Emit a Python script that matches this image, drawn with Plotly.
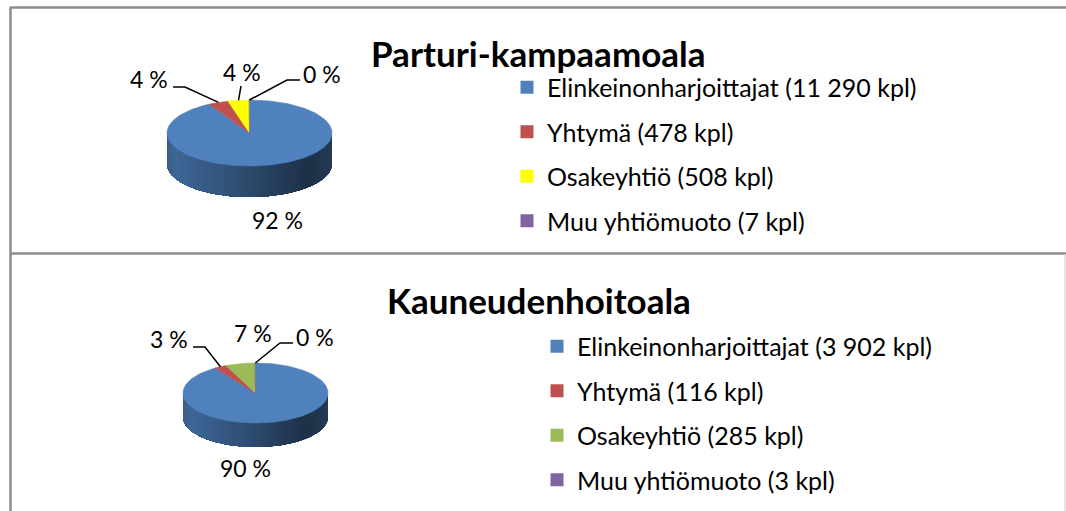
import numpy as np
import plotly.graph_objects as go

W, H = 1066, 511

# ---------------- data ----------------
categories = ["Elinkeinonharjoittajat", "Yhtymä", "Osakeyhtiö", "Muu yhtiömuoto"]
titles = ["Parturi-kampaamoala", "Kauneudenhoitoala"]
counts_parturi = [11290, 478, 508, 7]
counts_kauneus = [3902, 116, 285, 3]
pct_labels_parturi = ["92 %", "4 %", "4 %", "0 %"]
pct_labels_kauneus = ["90 %", "3 %", "7 %", "0 %"]
colors_parturi = ["#4f81bd", "#c0504d", "#ffff00", "#8064a2"]
colors_kauneus = ["#4f81bd", "#c0504d", "#9bbb59", "#8064a2"]

# ---------------- layout constants (pixel space) ----------------
FONT = "Lato"
pies = [
    dict(values=counts_parturi, pct=pct_labels_parturi, colors=colors_parturi,
         title=titles[0], cx=249.5, cy=133, rx=82.5, ry=33, depth=31,
         title_xy=(369, 53),
         label_xy=[(277, 220), (149, 79), (241.5, 72), (322, 74)],
         leader=[None, [(173, 87), (185, 87)], [(241, 86)], [(300, 80), (287, 80)]],
         legend="legend", legend_xy=(507, 64.5)),
    dict(values=counts_kauneus, pct=pct_labels_kauneus, colors=colors_kauneus,
         title=titles[1], cx=255.5, cy=393, rx=72.5, ry=30, depth=24,
         title_xy=(385, 300),
         label_xy=[(245, 468), (168.5, 339), (252.5, 333), (315, 337)],
         leader=[None, [(193, 347), (205, 347)], None, [(293, 343), (280, 343)]],
         legend="legend2", legend_xy=(537, 323.5)),
]


def hex_to_rgb(h):
    h = h.lstrip("#")
    return tuple(int(h[i:i + 2], 16) for i in (0, 2, 4))


def shade(hexcol, f):
    r, g, b = hex_to_rgb(hexcol)
    return "rgb(%d,%d,%d)" % (min(255, r * f), min(255, g * f), min(255, b * f))


def side_factor(t):
    # horizontal light falloff along the front wall (left -> right)
    ts = [0.0, 0.06, 0.45, 0.85, 1.0]
    fs = [0.74, 0.80, 0.60, 0.38, 0.46]
    return float(np.interp(t, ts, fs))


def fmt_count(n):
    return "{:,}".format(n).replace(",", " ")


def rim(p, th):
    t = np.radians(th)
    return p["cx"] + p["rx"] * np.sin(t), p["cy"] - p["ry"] * np.cos(t)


fig = go.Figure()
annotations = []

for p in pies:
    vals = p["values"]
    total = float(sum(vals))
    angles = []
    a = 0.0
    for v in vals:
        b = a + 360.0 * v / total
        angles.append((a, b))
        a = b

    # --- front wall (side): each band runs from its start angle to the end of
    #     the slice's visible arc, so later bands overlap earlier ones (no seams)
    d = p["depth"]
    for (a, b), col in zip(angles, p["colors"]):
        lo, hi = max(a, 90.0), min(b, 270.0)
        if hi <= lo:
            continue
        n = max(2, int((hi - lo) / 1.5))
        ths = np.linspace(lo, hi, n + 1)
        for i in range(n):
            arc = np.linspace(ths[i], hi, max(2, int((hi - ths[i]) / 1.5) + 2))
            top = [rim(p, th) for th in arc]
            xs = [q[0] for q in top] + [q[0] for q in top[::-1]]
            ys = [q[1] for q in top] + [q[1] + d for q in top[::-1]]
            xs.append(xs[0])
            ys.append(ys[0])
            xm = 0.5 * (rim(p, ths[i])[0] + rim(p, ths[i + 1])[0])
            tt = (xm - (p["cx"] - p["rx"])) / (2 * p["rx"])
            c = shade(col, side_factor(tt))
            fig.add_trace(go.Scatter(
                x=xs, y=ys, mode="lines", fill="toself", fillcolor=c,
                line=dict(color=c, width=0), hoverinfo="skip", showlegend=False))

    # --- top face slices ---
    for (a, b), col, cat in zip(angles, p["colors"], categories):
        n = max(2, int((b - a) / 1.5))
        ths = np.linspace(a, b, n + 1)
        xs = [p["cx"]]
        ys = [p["cy"]]
        for th in ths:
            x, y = rim(p, th)
            xs.append(x)
            ys.append(y)
        xs.append(p["cx"])
        ys.append(p["cy"])
        fig.add_trace(go.Scatter(
            x=xs, y=ys, mode="lines", fill="toself", fillcolor=col,
            line=dict(color=col, width=0.6), name=cat,
            hoverinfo="skip", showlegend=False))

    # --- data labels + leader lines ---
    for i, ((a, b), txt) in enumerate(zip(angles, p["pct"])):
        lx, ly = p["label_xy"][i]
        annotations.append(dict(
            x=lx, y=ly, xref="x", yref="y", text=txt, showarrow=False,
            font=dict(family=FONT, size=23, color="#000000"),
            xanchor="center", yanchor="middle"))
        ld = p["leader"][i]
        if ld:
            ex, ey = rim(p, 0.5 * (a + b))
            pts = list(ld) + [(ex, ey)]
            fig.add_trace(go.Scatter(
                x=[q[0] for q in pts], y=[q[1] for q in pts], mode="lines",
                line=dict(color="#000000", width=1.5), hoverinfo="skip",
                showlegend=False))

    # --- title ---
    tx, ty = p["title_xy"]
    annotations.append(dict(
        x=tx, y=ty, xref="x", yref="y", text="<b>%s</b>" % p["title"],
        showarrow=False, font=dict(family=FONT, size=35, color="#000000"),
        xanchor="left", yanchor="middle"))

    # --- legend entries ---
    for i, (cat, col, v) in enumerate(zip(categories, p["colors"], vals)):
        fig.add_trace(go.Scatter(
            x=[None], y=[None], mode="markers",
            marker=dict(symbol="square", size=13, color=col),
            name="%s (%s kpl)" % (cat, fmt_count(v)),
            legend=p["legend"], legendgroup="%s_%d" % (p["legend"], i),
            showlegend=True))

legend_common = dict(
    font=dict(family=FONT, size=25, color="#000000"),
    bgcolor="rgba(0,0,0,0)", borderwidth=0, tracegroupgap=9,
    xanchor="left", yanchor="top", itemwidth=30, traceorder="grouped")

l1 = pies[0]["legend_xy"]
l2 = pies[1]["legend_xy"]

shapes = [
    dict(type="line", xref="x", yref="y", x0=10, y0=7.5, x1=W + 5, y1=7.5,
         line=dict(color="#8c8c8c", width=2.5)),
    dict(type="line", xref="x", yref="y", x0=10.5, y0=7, x1=10.5, y1=H + 5,
         line=dict(color="#8c8c8c", width=2.5)),
    dict(type="line", xref="x", yref="y", x0=10, y0=253.5, x1=W + 5, y1=253.5,
         line=dict(color="#8c8c8c", width=2.5)),
    dict(type="line", xref="x", yref="y", x0=1065, y0=254, x1=1065, y1=H + 5,
         line=dict(color="#d4d4d4", width=1.2)),
]

fig.update_layout(
    width=W, height=H, autosize=False,
    margin=dict(l=0, r=0, t=0, b=0, pad=0),
    paper_bgcolor="#ffffff", plot_bgcolor="#ffffff",
    xaxis=dict(range=[0, W], visible=False, fixedrange=True),
    yaxis=dict(range=[H, 0], visible=False, fixedrange=True),
    showlegend=True,
    legend=dict(x=l1[0] / W, y=1 - l1[1] / H, **legend_common),
    legend2=dict(x=l2[0] / W, y=1 - l2[1] / H, **legend_common),
    annotations=annotations, shapes=shapes,
)

fig.write_html(
    "out.html",
    config={"displayModeBar": False},
    post_script="document.body.style.margin='0px';"
                "document.body.style.overflow='hidden';",
)
